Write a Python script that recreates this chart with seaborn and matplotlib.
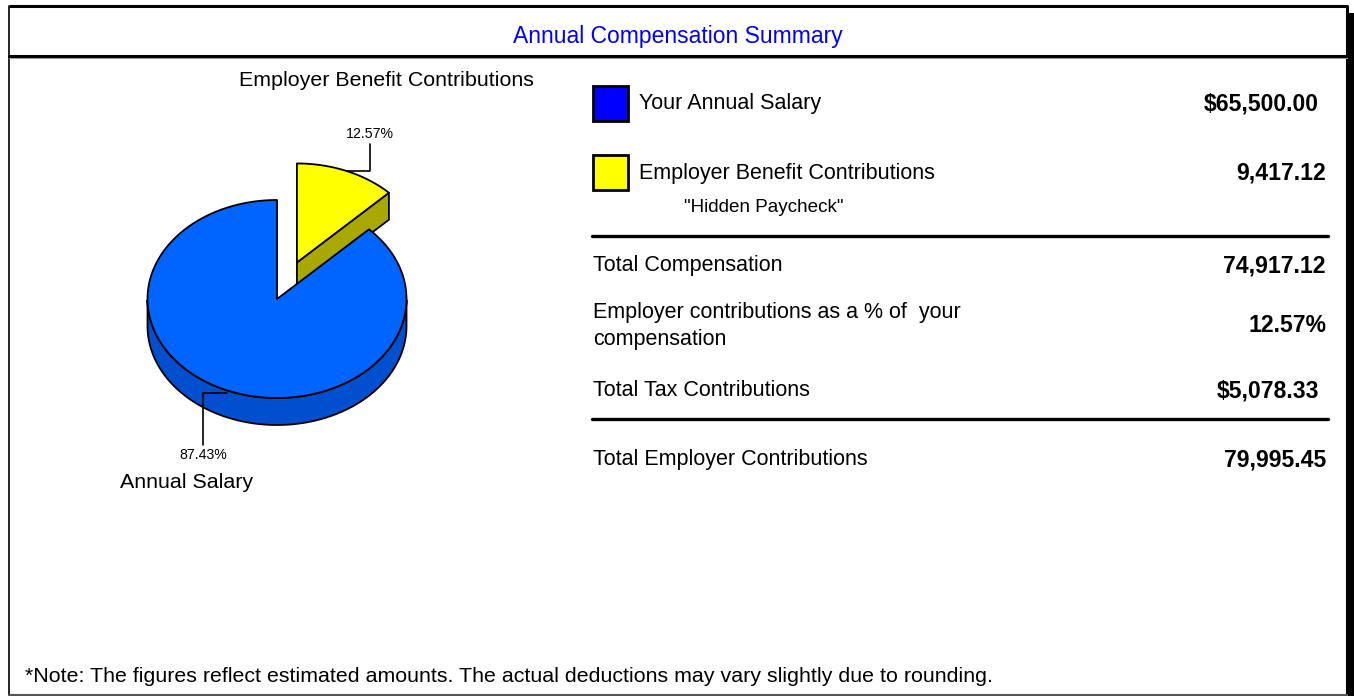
import numpy as np
import matplotlib
matplotlib.use("Agg")
import matplotlib.pyplot as plt
import seaborn as sns
from matplotlib.patches import Polygon, Rectangle

# -----------------------------------
# Data
# -----------------------------------

slice_labels = ["Annual Salary", "Employer Benefit Contributions"]
slice_shares = [87.43, 12.57]
slice_colors = ["#0064FF", "#FFFF00"]
side_colors = ["#004FCF", "#A8A800"]
slice_explode = [0.0, 0.4]

legend_labels = ["Your Annual Salary", "Employer Benefit Contributions"]
legend_values = ["$65,500.00", "9,417.12"]
legend_colors = ["#0000FF", "#FFFF00"]

row_labels = [
    "Total Compensation",
    "Employer contributions as a % of  your\ncompensation",
    "Total Tax Contributions",
    "Total Employer Contributions",
]
row_values = ["74,917.12", "12.57%", "$5,078.33", "79,995.45"]

# -----------------------------------
# Style
# -----------------------------------

sns.set_theme(style="white")
plt.rcParams["font.family"] = ["Liberation Sans", "DejaVu Sans"]
plt.rcParams["text.color"] = "black"

W, H = 1354, 696
fig = plt.figure(figsize=(W / 100, H / 100), dpi=100)
ax = fig.add_axes([0, 0, 1, 1])
ax.set_xlim(0, W)
ax.set_ylim(H, 0)
ax.axis("off")

# -----------------------------------
# Frame
# -----------------------------------

ax.add_patch(Rectangle((1348, 13), 6, H, color="black", lw=0))
ax.plot([9, 1347, 1347], [6, 6, 695], color="black", lw=2.2, solid_capstyle="butt")
ax.plot([9, 9], [6, 695], color="black", lw=1.2)
ax.plot([9, 1347], [694.5, 694.5], color="#555555", lw=1.5)
ax.plot([9, 1347], [56, 56], color="black", lw=2.2)
ax.plot([9, 1347], [57.8, 57.8], color="#999999", lw=0.8)

ax.text(678, 37, "Annual Compensation Summary", color="#0000FF",
        fontsize=16.5, ha="center", va="center")

# -----------------------------------
# 3D pie
# -----------------------------------

cx, cy = 277, 299
rx, ry = 129.5, 99
depth = 27
start = 90.0

# salary goes counter-clockwise from 12 o'clock, benefits fill the rest
bounds = []
for i, share in enumerate(slice_shares):
    if i == 0:
        bounds.append((start, start + share / 100 * 360))
    else:
        bounds.append((start - share / 100 * 360, start))


def rim(t_deg, ox, oy, dz=0.0):
    t = np.radians(t_deg)
    return np.column_stack([ox + rx * np.cos(t), oy - ry * np.sin(t) + dz])


def offsets(i):
    t0, t1 = bounds[i]
    mid = np.radians((t0 + t1) / 2)
    e = slice_explode[i]
    return cx + e * rx * np.cos(mid), cy - e * ry * np.sin(mid)


edge = dict(edgecolor="black", lw=1.3, joinstyle="round")

# draw the exploded (back) slice first, then the big one in front
for i in [1, 0]:
    t0, t1 = bounds[i]
    ox, oy = offsets(i)
    ts = np.linspace(t0, t1, 300)

    # visible outer rim (front half)
    front = ts[np.sin(np.radians(ts)) < 0]
    if len(front):
        top = rim(front, ox, oy)
        bot = rim(front[::-1], ox, oy, depth)
        ax.add_patch(Polygon(np.vstack([top, bot]), facecolor=side_colors[i], **edge))

    # radial face on the clockwise edge of the exploded slice
    if slice_explode[i] > 0:
        p = rim([t0], ox, oy)[0]
        face = [[ox, oy], p, [p[0], p[1] + depth], [ox, oy + depth]]
        ax.add_patch(Polygon(face, facecolor=side_colors[i], **edge))

    top_face = np.vstack([[ox, oy], rim(ts, ox, oy)])
    ax.add_patch(Polygon(top_face, facecolor=slice_colors[i], **edge))

# leader lines and labels
for i, share in enumerate(slice_shares):
    t0, t1 = bounds[i]
    ox, oy = offsets(i)
    mid = (t0 + t1) / 2
    p = rim([mid], ox, oy)[0]
    if i == 1:
        xs = [p[0], p[0] + 23, p[0] + 23]
        ys = [p[1], p[1], p[1] - 27]
        ax.plot(xs, ys, color="black", lw=1.2)
        ax.text(xs[-1], ys[-1] - 3, f"{share:.2f}%", fontsize=10.2,
                ha="center", va="bottom")
    else:
        xs = [p[0], p[0] - 24, p[0] - 24]
        ys = [p[1] + 3, p[1] + 3, p[1] + 55]
        ax.plot(xs, ys, color="black", lw=1.2)
        ax.text(xs[-1], ys[-1] + 3, f"{share:.2f}%", fontsize=10.2,
                ha="center", va="top")
        ax.text(xs[-1] - 17, ys[-1] + 37, slice_labels[i], fontsize=15.4,
                ha="center", va="center")

ax.text(386, 81, slice_labels[1], fontsize=15.4, ha="center", va="center")

# -----------------------------------
# Summary table
# -----------------------------------

label_fs = 15.5
value_fs = 16.6

legend_y = [104, 173]
for y, lab, val, col in zip(legend_y, legend_labels, legend_values, legend_colors):
    ax.add_patch(Rectangle((593, y - 18), 35, 35, facecolor=col,
                           edgecolor="black", lw=2))
    ax.text(639, y, lab, fontsize=label_fs, ha="left", va="center")
    right = 1319 if val.startswith("$") else 1326
    ax.text(right, y, val, fontsize=value_fs, fontweight="bold", ha="right", va="center")

ax.text(684, 207, '"Hidden Paycheck"', fontsize=13.6, ha="left", va="center")

for y in [236, 419]:
    ax.plot([592, 1328], [y, y], color="black", lw=2.4)

row_y = [266, 326, 391, 460]
for y, lab, val in zip(row_y, row_labels, row_values):
    ax.text(593, y, lab, fontsize=label_fs, ha="left", va="center", linespacing=1.4)
    right = 1319 if val.startswith("$") else 1326
    ax.text(right, y, val, fontsize=value_fs, fontweight="bold", ha="right", va="center")

ax.text(25, 676, "*Note: The figures reflect estimated amounts. "
        "The actual deductions may vary slightly due to rounding.",
        fontsize=15.4, ha="left", va="center")

fig.savefig("out.png", dpi=100)
